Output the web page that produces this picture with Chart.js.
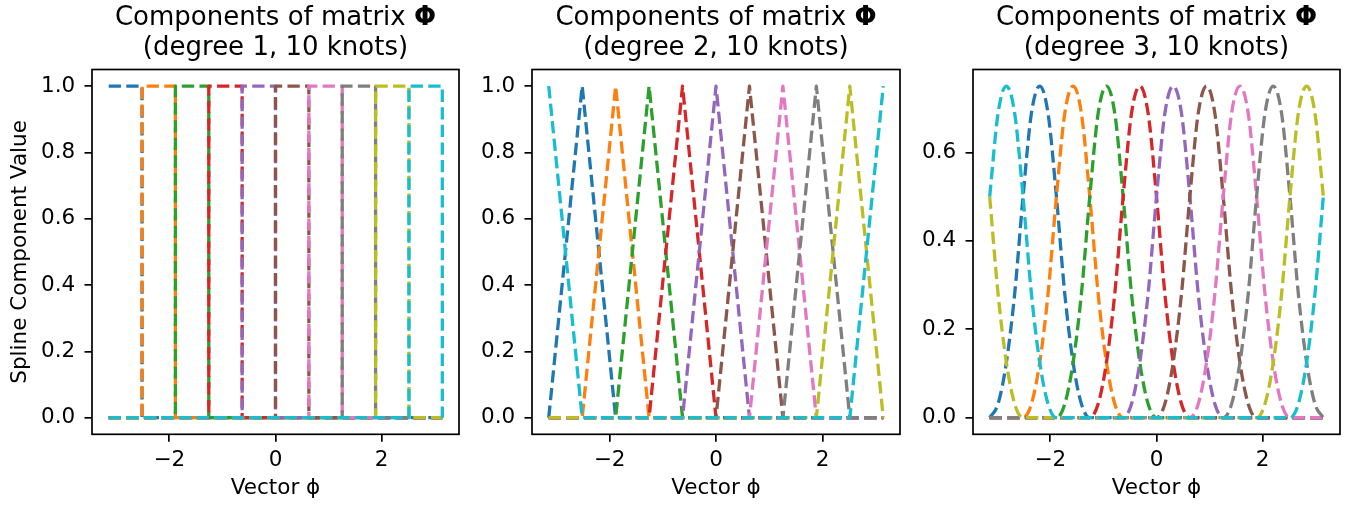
<!DOCTYPE html>
<html>
<head>
<meta charset="utf-8">
<script src="https://cdn.jsdelivr.net/npm/chart.js@4.4.1/dist/chart.umd.min.js"></script>
<style>
html, body { margin: 0; padding: 0; background: #fff; }
#fig { position: relative; width: 1353px; height: 509px; overflow: hidden; font-family: "DejaVu Sans", sans-serif; background: #fff; }
#fig canvas { position: absolute; top: 0; }
.ttl { position: absolute; top: 1px; text-align: center; font-size: 26px; line-height: 30px; color: #000; white-space: nowrap; }
</style>
</head>
<body>
<div id="fig">
  <canvas id="c1" width="470" height="509" style="left:0px"></canvas>
  <canvas id="c2" width="445" height="509" style="left:470px"></canvas>
  <canvas id="c3" width="438" height="509" style="left:915px"></canvas>
  <div class="ttl" style="left:92px;width:367px">Components of matrix <b>Φ</b><br>(degree 1, 10 knots)</div>
  <div class="ttl" style="left:532px;width:368px">Components of matrix <b>Φ</b><br>(degree 2, 10 knots)</div>
  <div class="ttl" style="left:973px;width:367px">Components of matrix <b>Φ</b><br>(degree 3, 10 knots)</div>
</div>
<script>
// ---------------- data ----------------
const colors = ['#1f77b4','#ff7f0e','#2ca02c','#d62728','#9467bd','#8c564b','#e377c2','#7f7f7f','#bcbd22','#17becf'];

// knot positions on [-pi, pi]
const knotX = [-3.1416,-2.5133,-1.8850,-1.2566,-0.6283,0,0.6283,1.2566,1.8850,2.5133,3.1416];

// fine grid (quarter knot interval) for the degree-3 panel
const fineX = [-3.1416,-2.9845,-2.8274,-2.6704,-2.5133,-2.3562,-2.1991,-2.0420,-1.8850,-1.7279,
  -1.5708,-1.4137,-1.2566,-1.0996,-0.9425,-0.7854,-0.6283,-0.4712,-0.3142,-0.1571,0,
  0.1571,0.3142,0.4712,0.6283,0.7854,0.9425,1.0996,1.2566,1.4137,1.5708,1.7279,1.8850,
  2.0420,2.1991,2.3562,2.5133,2.6704,2.8274,2.9845,3.1416];

// degree 1: value of each component at each knot (held until next knot)
const degree1Values = [
  [1,0,0,0,0,0,0,0,0,0,0],
  [0,1,0,0,0,0,0,0,0,0,0],
  [0,0,1,0,0,0,0,0,0,0,0],
  [0,0,0,1,0,0,0,0,0,0,0],
  [0,0,0,0,1,0,0,0,0,0,0],
  [0,0,0,0,0,1,0,0,0,0,0],
  [0,0,0,0,0,0,1,0,0,0,0],
  [0,0,0,0,0,0,0,1,0,0,0],
  [0,0,0,0,0,0,0,0,1,0,0],
  [0,0,0,0,0,0,0,0,0,1,0]
];

// degree 2: hat components, value at each knot
const degree2Values = [
  [0,1,0,0,0,0,0,0,0,0,0],
  [0,0,1,0,0,0,0,0,0,0,0],
  [0,0,0,1,0,0,0,0,0,0,0],
  [0,0,0,0,1,0,0,0,0,0,0],
  [0,0,0,0,0,1,0,0,0,0,0],
  [0,0,0,0,0,0,1,0,0,0,0],
  [0,0,0,0,0,0,0,1,0,0,0],
  [0,0,0,0,0,0,0,0,1,0,0],
  [0,0,0,0,0,0,0,0,0,1,0],
  [1,0,0,0,0,0,0,0,0,0,1]
];

// degree 3: values on the fine grid
const degree3Values = [
  [0,.031,.125,.281, .5,.688,.75,.688, .5,.281,.125,.031, 0,0,0,0, 0,0,0,0, 0,0,0,0, 0,0,0,0, 0,0,0,0, 0,0,0,0, 0,0,0,0, 0],
  [0,0,0,0, 0,.031,.125,.281, .5,.688,.75,.688, .5,.281,.125,.031, 0,0,0,0, 0,0,0,0, 0,0,0,0, 0,0,0,0, 0,0,0,0, 0,0,0,0, 0],
  [0,0,0,0, 0,0,0,0, 0,.031,.125,.281, .5,.688,.75,.688, .5,.281,.125,.031, 0,0,0,0, 0,0,0,0, 0,0,0,0, 0,0,0,0, 0,0,0,0, 0],
  [0,0,0,0, 0,0,0,0, 0,0,0,0, 0,.031,.125,.281, .5,.688,.75,.688, .5,.281,.125,.031, 0,0,0,0, 0,0,0,0, 0,0,0,0, 0,0,0,0, 0],
  [0,0,0,0, 0,0,0,0, 0,0,0,0, 0,0,0,0, 0,.031,.125,.281, .5,.688,.75,.688, .5,.281,.125,.031, 0,0,0,0, 0,0,0,0, 0,0,0,0, 0],
  [0,0,0,0, 0,0,0,0, 0,0,0,0, 0,0,0,0, 0,0,0,0, 0,.031,.125,.281, .5,.688,.75,.688, .5,.281,.125,.031, 0,0,0,0, 0,0,0,0, 0],
  [0,0,0,0, 0,0,0,0, 0,0,0,0, 0,0,0,0, 0,0,0,0, 0,0,0,0, 0,.031,.125,.281, .5,.688,.75,.688, .5,.281,.125,.031, 0,0,0,0, 0],
  [0,0,0,0, 0,0,0,0, 0,0,0,0, 0,0,0,0, 0,0,0,0, 0,0,0,0, 0,0,0,0, 0,.031,.125,.281, .5,.688,.75,.688, .5,.281,.125,.031, 0],
  [.5,.281,.125,.031, 0,0,0,0, 0,0,0,0, 0,0,0,0, 0,0,0,0, 0,0,0,0, 0,0,0,0, 0,0,0,0, 0,.031,.125,.281, .5,.688,.75,.688, .5],
  [.5,.688,.75,.688, .5,.281,.125,.031, 0,0,0,0, 0,0,0,0, 0,0,0,0, 0,0,0,0, 0,0,0,0, 0,0,0,0, 0,0,0,0, 0,.031,.125,.281, .5]
];

const xTickValues = [-2, 0, 2];
const yTickValuesFull = [0, 0.2, 0.4, 0.6, 0.8, 1.0];
const yTickValuesDeg3 = [0, 0.2, 0.4, 0.6];

// ---------------- drawing ----------------
const FONT = '"DejaVu Sans"';
const TICK_FONT = { family: FONT, size: 21.5 };
const LABEL_FONT = { family: FONT, size: 21.5 };

const framePlugin = {
  id: 'frame',
  afterDraw(chart) {
    const { ctx, chartArea: a } = chart;
    ctx.save();
    ctx.strokeStyle = '#000';
    ctx.lineWidth = 1.7;
    ctx.strokeRect(a.left, a.top, a.right - a.left, a.bottom - a.top);
    ctx.restore();
  }
};

function fmtX(v) {
  return v < 0 ? '\u2212' + Math.abs(v) : String(v);
}

function buildChart(id, xs, rows, o) {
  const n = rows.length;
  const datasets = rows.map((ys, i) => ({
    label: 'Component ' + (i + 1),
    data: xs.map((x, j) => ({ x: x, y: ys[j] })),
    borderColor: colors[i],
    backgroundColor: colors[i],
    borderWidth: 3.3,
    borderDash: [12.3, 5.3],
    borderCapStyle: 'butt',
    borderJoinStyle: 'round',
    pointRadius: 0,
    fill: false,
    order: n - i,
    stepped: o.stepped ? 'before' : false,
    cubicInterpolationMode: o.smooth ? 'monotone' : 'default',
    tension: 0
  }));
  return new Chart(document.getElementById(id), {
    type: 'line',
    data: { datasets },
    options: {
      responsive: false,
      animation: false,
      events: [],
      layout: { padding: { left: 0, right: o.padRight, top: 69.5, bottom: 0 } },
      plugins: { legend: { display: false }, tooltip: { enabled: false }, title: { display: false } },
      scales: {
        x: {
          type: 'linear',
          min: -3.4558, max: 3.4558,
          afterFit: s => { s.height = 74.7; },
          afterBuildTicks: s => { s.ticks = xTickValues.map(v => ({ value: v })); },
          ticks: { callback: v => fmtX(v), font: TICK_FONT, color: '#000', padding: 5.5, maxRotation: 0, autoSkip: false },
          grid: { display: true, drawOnChartArea: false, drawTicks: true, tickLength: 7.5, color: '#000', lineWidth: 1.7 },
          border: { display: false },
          title: { display: true, text: 'Vector ϕ', font: LABEL_FONT, color: '#000', padding: { top: 0, bottom: 7.8 } }
        },
        y: {
          type: 'linear',
          min: o.yMin, max: o.yMax,
          afterFit: s => { s.width = o.yWidth; },
          afterBuildTicks: s => { s.ticks = o.yTicks.map(v => ({ value: v })); },
          ticks: { callback: v => Number(v).toFixed(1), font: TICK_FONT, color: '#000', padding: 9.2, autoSkip: false },
          grid: { display: true, drawOnChartArea: false, drawTicks: true, tickLength: 7.5, color: '#000', lineWidth: 1.7 },
          border: { display: false },
          title: { display: !!o.yTitle, text: o.yTitle || '', font: LABEL_FONT, color: '#000', padding: { top: 7.5, bottom: 0 } }
        }
      }
    },
    plugins: [framePlugin]
  });
}

buildChart('c1', knotX, degree1Values, {
  stepped: true, padRight: 11, yWidth: 92, yMin: -0.05, yMax: 1.05,
  yTicks: yTickValuesFull, yTitle: 'Spline Component Value'
});
buildChart('c2', knotX, degree2Values, {
  padRight: 15, yWidth: 62, yMin: -0.05, yMax: 1.05, yTicks: yTickValuesFull
});
buildChart('c3', fineX, degree3Values, {
  smooth: true, padRight: 13, yWidth: 58, yMin: -0.0375, yMax: 0.7875, yTicks: yTickValuesDeg3
});
</script>
</body>
</html>
